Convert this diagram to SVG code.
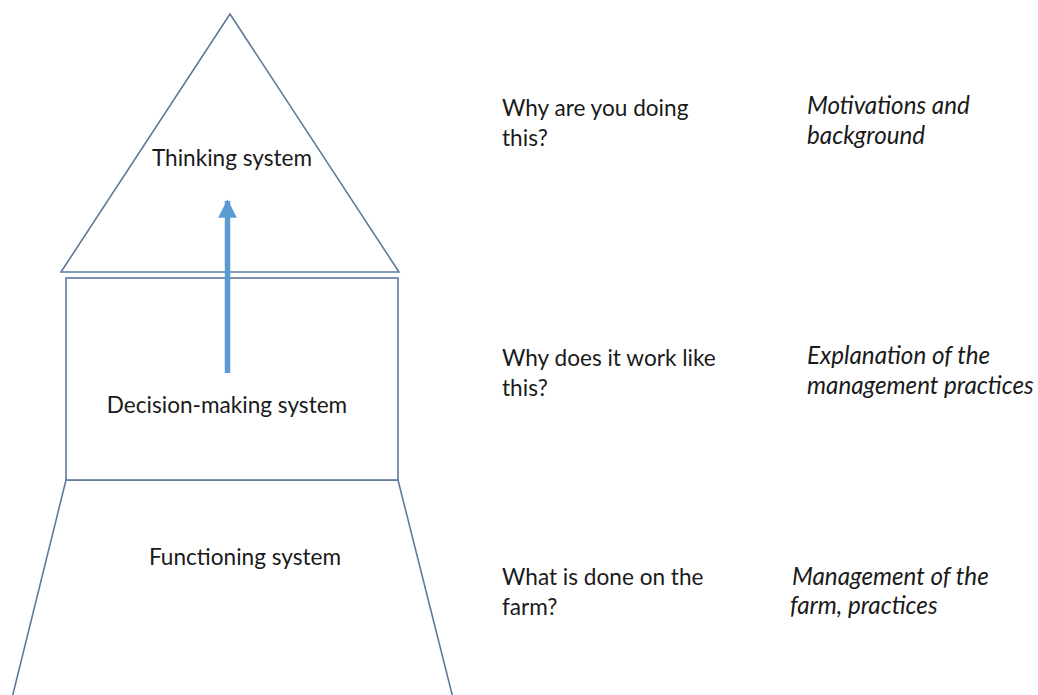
<svg xmlns="http://www.w3.org/2000/svg" width="1038" height="695" viewBox="0 0 1038 695">
  <style>
    .shape { fill: #ffffff; stroke: #60799a; stroke-width: 1.6; stroke-linejoin: miter; }
    .label { font-family: Lato, "Open Sans", "Liberation Sans", sans-serif; font-size: 22.6px; fill: #1a1a1a; }
    .note { font-family: Lato, "Open Sans", "Liberation Sans", sans-serif; font-size: 24.2px; font-style: italic; fill: #1a1a1a; }
    .mid { text-anchor: middle; }
  </style>
  <defs>
    <marker id="head" viewBox="0 0 10 10" refX="9" refY="5" markerWidth="3.4" markerHeight="3.4" markerUnits="strokeWidth" orient="auto">
      <path d="M0,0 L10,5 L0,10 Z" fill="#5b9bd5"/>
    </marker>
  </defs>
  <rect width="1038" height="695" fill="#ffffff"/>

  <!-- pyramid levels -->
  <g id="functioning-system">
    <polygon class="shape" points="66,480 398,480 453,698 12,698"/>
    <text class="label mid" x="245" y="565">Functioning system</text>
  </g>
  <g id="decision-making-system">
    <rect class="shape" x="66" y="278" width="332" height="202"/>
    <text class="label mid" x="227" y="413">Decision-making system</text>
  </g>
  <g id="thinking-system">
    <polygon class="shape" points="230,14 399,272 61,272"/>
    <text class="label mid" x="232" y="166">Thinking system</text>
  </g>

  <!-- upward arrow from decision making to thinking -->
  <g id="connectors">
    <line x1="227.5" y1="373" x2="227.5" y2="201" stroke="#5b9bd5" stroke-width="5.5" marker-end="url(#head)"/>
  </g>

  <!-- guiding questions -->
  <g id="question-thinking">
    <text class="label" x="502" y="116">Why are you doing</text>
    <text class="label" x="502" y="146">this?</text>
  </g>
  <g id="question-decision">
    <text class="label" x="502" y="366">Why does it work like</text>
    <text class="label" x="502" y="396">this?</text>
  </g>
  <g id="question-functioning">
    <text class="label" x="502" y="585">What is done on the</text>
    <text class="label" x="502" y="615">farm?</text>
  </g>

  <!-- descriptions -->
  <g id="note-thinking">
    <text class="note" x="807" y="114">Motivations and</text>
    <text class="note" x="807" y="144">background</text>
  </g>
  <g id="note-decision">
    <text class="note" x="807" y="364">Explanation of the</text>
    <text class="note" x="807" y="394">management practices</text>
  </g>
  <g id="note-functioning">
    <text class="note" x="792" y="585">Management of the</text>
    <text class="note" x="790" y="614">farm, practices</text>
  </g>
</svg>
